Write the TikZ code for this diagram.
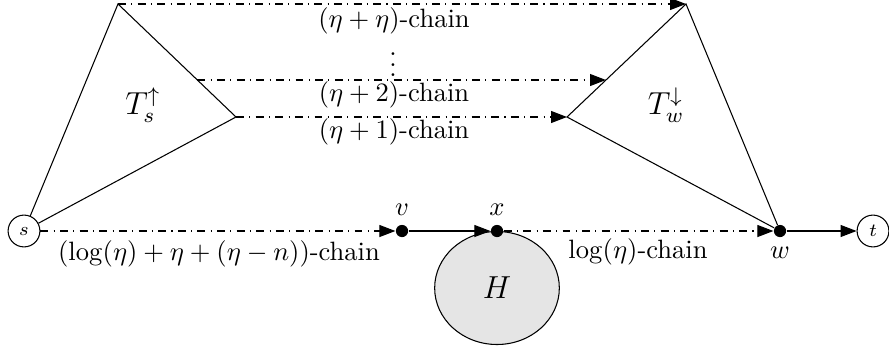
\documentclass[tikz,border=0pt]{standalone}
\usetikzlibrary{arrows.meta,shapes.geometric,calc}
\begin{document}
\begin{tikzpicture}[x=0.377pt,y=-0.377pt,
  term/.style={circle,draw,minimum size=12pt,inner sep=0pt,font=\scriptsize},
  dotnode/.style={circle,fill,minimum size=4.6pt,inner sep=0pt},
  chain/.style={dash pattern=on 3pt off 2pt on 0.4pt off 2pt,-{Triangle[length=6pt,width=4.5pt]}},
  arr/.style={-{Triangle[length=6pt,width=4.5pt]}},
  big/.style={font=\large}]
\useasboundingbox (0,0) rectangle (889,347);
% terminals and graph H
\node[term] (s) at (24,231) {$s$};
\node[term] (t) at (873,231) {$t$};
\node[ellipse,draw,fill=black!10,minimum width=47pt,minimum height=42.6pt,big] (H) at (497,288) {$H$};
\node[dotnode,label=above:$v$] (v) at (402,231) {};
\node[dotnode,label=above:$x$] (x) at (497,231) {};
\node[dotnode,label=below:$w$] (w) at (780,231) {};
% triangle corners
\coordinate (sa) at (118,4);
\coordinate (sb) at (236,117);
\coordinate (wa) at (686,4);
\coordinate (wb) at (567,117);
\coordinate (sm) at ($(sa)!0.6726!(sb)$);
\coordinate (wm) at ($(wa)!0.6726!(wb)$);
% triangles
\draw (s) -- (sa) -- (sb) -- (s);
\draw (w) -- (wa) -- (wb) -- (w);
% chains
\draw[chain] (sa) -- (wa);
\draw[chain] (sm) -- (wm);
\draw[chain] (sb) -- (wb);
\draw[chain] (s) -- (v);
\draw[arr] (v) -- (x);
\draw[chain] (x) -- (w);
\draw[arr] (w) -- (t);
% labels
\node (l1) at (394,21) {$(\eta+\eta)$-chain};
\node (ld) at (393,57) {$\vdots$};
\node (l2) at (394,95) {$(\eta+2)$-chain};
\node (l3) at (394,132) {$(\eta+1)$-chain};
\node (l4) at (219,254) {$(\log(\eta)+\eta+(\eta-n))$-chain};
\node (l5) at (638,252) {$\log(\eta)$-chain};
\node[big] (Ts) at (143,105) {$T_s^{\uparrow}$};
\node[big] (Tw) at (666,105) {$T_w^{\downarrow}$};
\end{tikzpicture}
\end{document}
